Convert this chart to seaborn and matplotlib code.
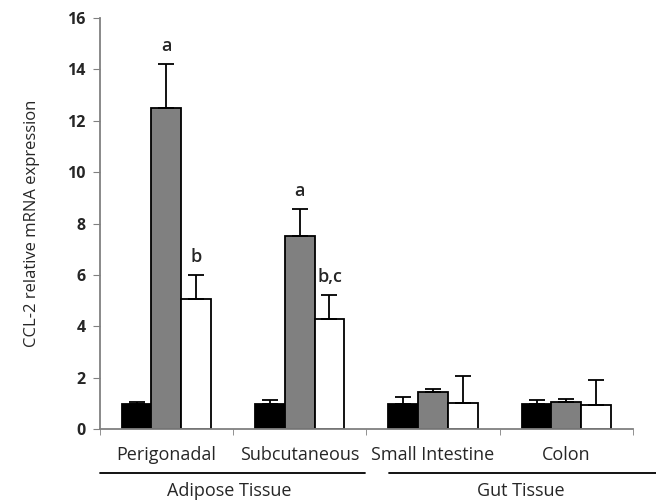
import numpy as np
import pandas as pd
import matplotlib
matplotlib.use("Agg")
import matplotlib.pyplot as plt
import matplotlib.transforms as mtransforms
import seaborn as sns

# ================= DATA =================
tissues = ["Perigonadal", "Subcutaneous", "Small Intestine", "Colon"]
groups = ["Group 1", "Group 2", "Group 3"]
means = {
    "Group 1": [0.97, 0.97, 0.98, 0.98],
    "Group 2": [12.5, 7.5, 1.43, 1.07],
    "Group 3": [5.05, 4.28, 1.03, 0.93],
}
err_up = {
    "Group 1": [0.1, 0.15, 0.27, 0.15],
    "Group 2": [1.7, 1.08, 0.12, 0.11],
    "Group 3": [0.95, 0.95, 1.02, 0.98],
}
letters = {("Group 2", 0): "a", ("Group 3", 0): "b",
           ("Group 2", 1): "a", ("Group 3", 1): "b,c"}
colors = ["#000000", "#808080", "#ffffff"]
super_groups = ["Adipose Tissue", "Gut Tissue"]

rows = []
for g in groups:
    for i, t in enumerate(tissues):
        rows.append({"tissue": t, "group": g, "value": means[g][i], "err": err_up[g][i]})
df = pd.DataFrame(rows)

# ================= PLOT =================
sns.set_style("white")
plt.rcParams["font.family"] = ["Open Sans", "DejaVu Sans"]

fig = plt.figure(figsize=(6.56, 5.0), dpi=100)
ax = fig.add_axes([0.152, 0.142, 0.813, 0.822])

sns.barplot(data=df, x="tissue", y="value", hue="group", order=tissues,
            hue_order=groups, palette=colors, edgecolor="black", linewidth=1.3,
            width=0.67, errorbar=None, legend=False, ax=ax)

# upper error bars + significance letters
for gi, (g, container) in enumerate(zip(groups, ax.containers)):
    for ti, bar in enumerate(container):
        xc = bar.get_x() + bar.get_width() / 2
        top = bar.get_height()
        e = err_up[g][ti]
        ax.errorbar(xc, top, yerr=[[0], [e]], fmt="none", ecolor="black",
                    elinewidth=1.3, capsize=5.5, capthick=1.3)
        lab = letters.get((g, ti))
        if lab:
            ax.text(xc, top + e + 0.35, lab, ha="center", va="bottom",
                    fontsize=13, fontweight="semibold")

ax.set_ylim(0, 16)
ax.set_yticks(range(0, 17, 2))
ax.set_xlim(-0.5, 3.5)
ax.set_xlabel("")
ax.set_ylabel("CCL-2 relative mRNA expression", fontsize=12, labelpad=20)

for s in ["top", "right"]:
    ax.spines[s].set_visible(False)
for s in ["left", "bottom"]:
    ax.spines[s].set_color("#808080")
    ax.spines[s].set_linewidth(1.3)

ax.tick_params(axis="y", direction="out", length=5, color="#808080",
               labelsize=11.5, left=True, pad=5)
for lbl in ax.get_yticklabels():
    lbl.set_fontweight("bold")
ax.tick_params(axis="x", which="major", length=0, labelsize=13, pad=12)
ax.set_xticks(np.arange(-0.5, 4, 1.0), minor=True)
ax.tick_params(axis="x", which="minor", direction="out", length=4,
               color="#808080", bottom=True)

# group brackets below the axis
trans = mtransforms.blended_transform_factory(ax.transData, ax.transAxes)
spans = [(-0.5, 1.49), (1.67, 3.68)]
for name, (x0, x1) in zip(super_groups, spans):
    ax.plot([x0, x1], [-0.107, -0.107], color="black", lw=1.3,
            transform=trans, clip_on=False)
    ax.text((x0 + x1) / 2 - 0.02, -0.15, name, transform=trans,
            ha="center", va="center", fontsize=13)

fig.savefig("out.png", dpi=100)
